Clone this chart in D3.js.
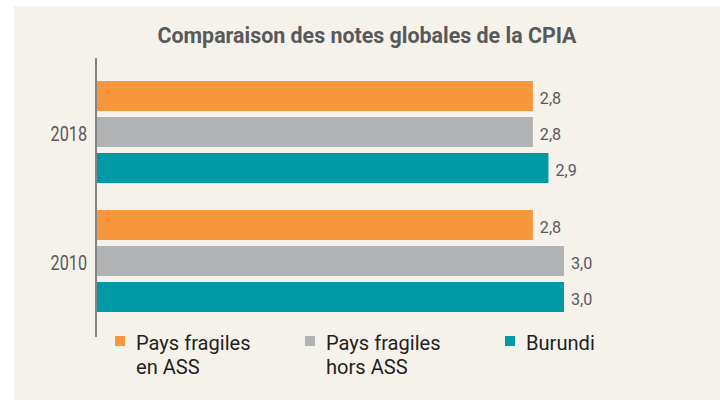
<!DOCTYPE html>
<html>
<head>
<meta charset="utf-8">
<script src="https://cdn.jsdelivr.net/npm/d3@7"></script>
<style>
  html, body { margin: 0; padding: 0; background: #ffffff; }
  svg { display: block; }
  text { font-family: Roboto, "DejaVu Sans Condensed", sans-serif; }
</style>
</head>
<body>
<svg id="chart" width="720" height="400"></svg>
<script>
const title = "Comparaison des notes globales de la CPIA";
const years = ["2018", "2010"];
const seriesNames = ["Pays fragiles en ASS", "Pays fragiles hors ASS", "Burundi"];
const legendLines = [["Pays fragiles", "en ASS"], ["Pays fragiles", "hors ASS"], ["Burundi"]];
const seriesColors = ["#f7963d", "#b1b2b4", "#0099a6"];
const values2018 = [2.8, 2.8, 2.9];
const values2010 = [2.8, 3.0, 3.0];
const valuesByYear = { "2018": values2018, "2010": values2010 };

const svg = d3.select("#chart");

// condense text horizontally
function condense(sel, f) {
  sel.each(function() {
    const len = this.getComputedTextLength();
    d3.select(this).attr("textLength", len * f).attr("lengthAdjust", "spacingAndGlyphs");
  });
}

// panel background
svg.append("rect").attr("x", 14).attr("y", 6).attr("width", 706).attr("height", 394).attr("fill", "#f5f2eb");

// title
svg.append("text").attr("x", 367).attr("y", 43).attr("text-anchor", "middle")
  .attr("font-size", 22.5).attr("font-weight", "bold").attr("fill", "#58595b")
  .attr("textLength", 419).attr("lengthAdjust", "spacingAndGlyphs").text(title);

const x = d3.scaleLinear().domain([0, 3]).range([97, 97 + 467]);
const y0 = d3.scaleBand().domain(years).range([81, 312]).paddingInner(27 / 129).paddingOuter(0);
const y1 = d3.scaleBand().domain(seriesNames).range([0, y0.bandwidth()]).paddingInner(1 / 6).paddingOuter(0);

const data = [];
years.forEach(yr => seriesNames.forEach((s, i) => data.push({ year: yr, series: s, idx: i, value: valuesByYear[yr][i] })));

const fmt = v => d3.format(".1f")(v).replace(".", ",");

svg.append("g").selectAll("rect").data(data).join("rect")
  .attr("x", x(0))
  .attr("y", d => y0(d.year) + y1(d.series))
  .attr("width", d => x(d.value) - x(0))
  .attr("height", y1.bandwidth())
  .attr("fill", d => seriesColors[d.idx]);

const vl = svg.append("g").selectAll("text").data(data).join("text")
  .attr("x", d => x(d.value) + 7)
  .attr("y", d => y0(d.year) + y1(d.series) + y1.bandwidth() / 2 + 8)
  .attr("font-size", 17).attr("fill", "#58595b")
  .text(d => fmt(d.value));
condense(vl, 0.95);

// axis (category labels)
const yAxis = d3.axisLeft(y0).tickSize(0).tickPadding(9);
const ag = svg.append("g").attr("transform", "translate(96,0)").call(yAxis);
ag.select(".domain").remove();
ag.selectAll("text").attr("font-size", 19.5).attr("fill", "#58595b").attr("dy", "0.46em")
  .style("font-family", "Roboto, sans-serif");
condense(ag.selectAll("text"), 0.83);
svg.append("line").attr("x1", 96).attr("x2", 96).attr("y1", 58).attr("y2", 337)
  .attr("stroke", "#858585").attr("stroke-width", 2);

// legend
const legendX = [115, 305, 505];
const lg = svg.append("g").selectAll("g").data(seriesNames).join("g")
  .attr("transform", (d, i) => `translate(${legendX[i]},336)`);
lg.append("rect").attr("width", 10).attr("height", 10).attr("fill", (d, i) => seriesColors[i]);
lg.each(function(d, i) {
  const t = d3.select(this).append("text").attr("x", 21).attr("y", 13.5)
    .attr("font-size", 19.5).attr("fill", "#231f20");
  legendLines[i].forEach((ln, j) => t.append("tspan").attr("x", 21).attr("dy", j === 0 ? 0 : 24).text(ln));
});
condense(lg.selectAll("tspan"), 1.03);
</script>
</body>
</html>
